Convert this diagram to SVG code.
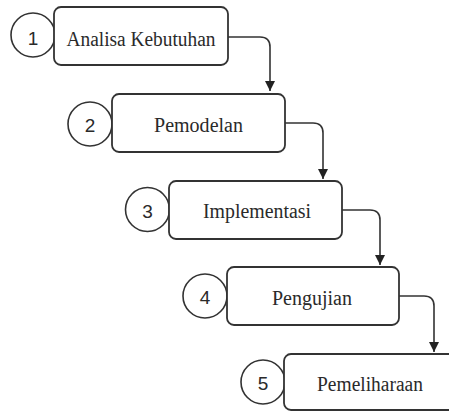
<svg xmlns="http://www.w3.org/2000/svg" width="449" height="412" viewBox="0 0 449 412">
<defs>
<style>
.box{fill:#fff;stroke:#333;stroke-width:1.8}
.num{fill:#fff;stroke:#333;stroke-width:1.6}
.lbl{font-family:'Liberation Serif', serif;font-size:20px;fill:#2a2a2a;text-anchor:middle}
.dig{font-family:'Liberation Sans', sans-serif;font-size:19px;fill:#2a2a2a;text-anchor:middle}
.conn{fill:none;stroke:#333;stroke-width:1.6}
</style>
<marker id="ah" markerUnits="userSpaceOnUse" markerWidth="12" markerHeight="12" viewBox="0 0 12 12" refX="10" refY="6" orient="auto">
<path d="M0,1 L10,6 L0,11 Z" fill="#222"/>
</marker>
</defs>
<rect width="449" height="412" fill="#fff"/>
<g id="node1">
<circle class="num" cx="33" cy="35" r="22"/>
<rect class="box" x="54" y="7" width="174" height="58" rx="7"/>
<text class="dig" x="33" y="45">1</text>
<text class="lbl" x="141" y="46" textLength="149" lengthAdjust="spacingAndGlyphs">Analisa Kebutuhan</text>
</g>
<g id="node2">
<circle class="num" cx="90" cy="124" r="22"/>
<rect class="box" x="112" y="94" width="173" height="58" rx="7"/>
<text class="dig" x="90" y="132">2</text>
<text class="lbl" x="198.5" y="132" textLength="89" lengthAdjust="spacingAndGlyphs">Pemodelan</text>
</g>
<g id="node3">
<circle class="num" cx="147.5" cy="209.5" r="22"/>
<rect class="box" x="169" y="181" width="173" height="58" rx="7"/>
<text class="dig" x="147.5" y="218">3</text>
<text class="lbl" x="257" y="218" textLength="108" lengthAdjust="spacingAndGlyphs">Implementasi</text>
</g>
<g id="node4">
<circle class="num" cx="205" cy="296" r="22"/>
<rect class="box" x="227" y="267" width="172" height="58" rx="7"/>
<text class="dig" x="205" y="304">4</text>
<text class="lbl" x="312" y="305" textLength="80" lengthAdjust="spacingAndGlyphs">Pengujian</text>
</g>
<g id="node5">
<circle class="num" cx="263" cy="382" r="22"/>
<rect class="box" x="284" y="354" width="174" height="56" rx="7"/>
<text class="dig" x="263" y="390">5</text>
<text class="lbl" x="370" y="391" textLength="106" lengthAdjust="spacingAndGlyphs">Pemeliharaan</text>
</g>
<g id="connectors">
<path class="conn" d="M228,37 H260 Q270,37 270,47 V91" marker-end="url(#ah)"/>
<path class="conn" d="M285,123 H313 Q323,123 323,133 V179" marker-end="url(#ah)"/>
<path class="conn" d="M342,210 H370 Q380,210 380,220 V265" marker-end="url(#ah)"/>
<path class="conn" d="M399,296 H424 Q434,296 434,306 V352" marker-end="url(#ah)"/>
</g>
</svg>
